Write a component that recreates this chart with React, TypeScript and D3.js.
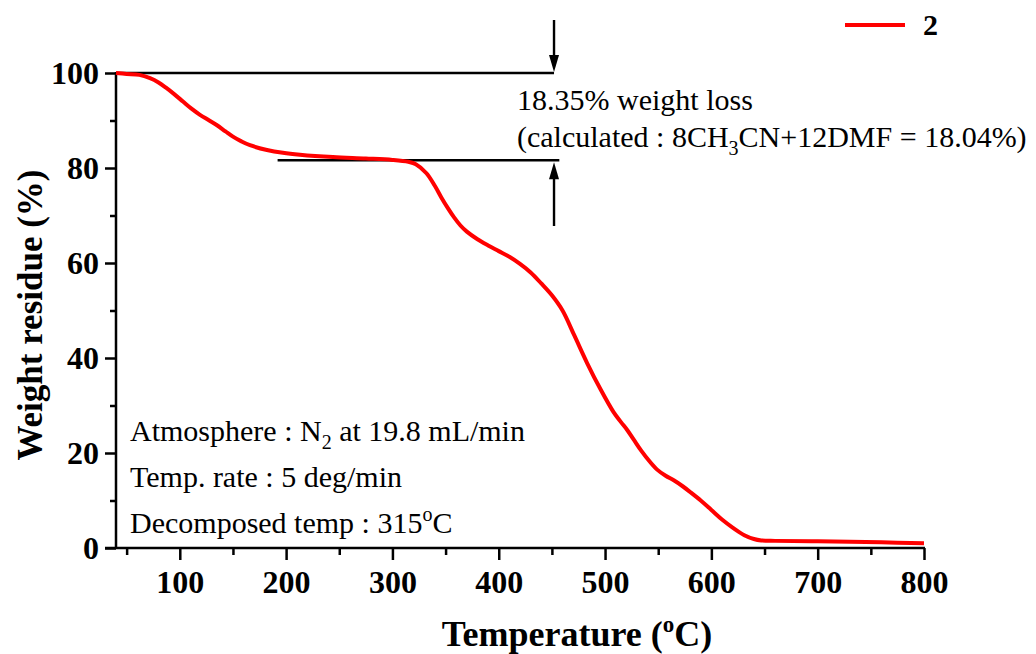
import React from "react";
import * as d3 from "d3";

// TGA curve (temperature in °C, weight residue in %)
const temps = [40, 50, 62, 72, 80, 87, 95, 103, 111, 119, 127, 135, 143, 150, 158, 166, 182, 197, 213, 244, 275, 300, 315, 322, 332, 340, 346, 352, 358, 364, 370, 380, 390, 400, 410, 420, 430, 440, 450, 460, 471, 483, 496, 508, 515, 521, 527, 534, 542, 549, 557, 565, 573, 580, 590, 600, 610, 620, 631, 640, 647, 660, 700, 760, 800];
const weights = [100.0, 99.8, 99.6, 98.9, 98.0, 96.9, 95.5, 94.0, 92.5, 91.2, 90.1, 89.0, 87.7, 86.6, 85.6, 84.8, 83.8, 83.2, 82.8, 82.3, 82.0, 81.7, 81.3, 80.8, 78.9, 76.2, 73.8, 71.6, 69.6, 67.9, 66.6, 65.0, 63.7, 62.5, 61.3, 59.8, 58.0, 55.7, 53.2, 50.0, 44.8, 39.0, 33.3, 28.6, 26.5, 24.8, 22.8, 20.5, 18.2, 16.5, 15.2, 14.2, 13.0, 11.8, 10.0, 8.0, 6.0, 4.3, 2.7, 1.9, 1.6, 1.5, 1.4, 1.2, 1.0];

const xTicks = [100, 200, 300, 400, 500, 600, 700, 800];
const xMinor = [50, 150, 250, 350, 450, 550, 650, 750];
const yTicks = [0, 20, 40, 60, 80, 100];
const yMinor = [10, 30, 50, 70, 90];

const seriesName = "2";
const lossTop = 100;
const lossBottom = 81.65;
const lossMarkT = 452;
const lossLineStartT = 192;

const width = 1036;
const height = 654;
const serif = "'Liberation Serif', 'Times New Roman', serif";

export default function App() {
  const ref = React.useRef<SVGGElement>(null);

  React.useEffect(() => {
    const svg = d3.select(ref.current);
    svg.selectAll("*").remove();

    const x = d3.scaleLinear().domain([40, 800]).range([116, 924]);
    const y = d3.scaleLinear().domain([0, 100]).range([548, 73]);

    const styleAxis = (g: any) => {
      g.select(".domain").remove();
      g.selectAll("line").attr("stroke", "#000").attr("stroke-width", 2.5);
      g.selectAll("text")
        .attr("font-family", serif)
        .attr("font-weight", "bold")
        .attr("font-size", 32)
        .attr("fill", "#000");
    };

    // axes (major and minor ticks in their own groups)
    const gxMinor = svg.append("g").attr("transform", `translate(0,${y(0)})`);
    gxMinor.call(d3.axisBottom(x).tickValues(xMinor).tickSize(7).tickFormat(() => ""));
    styleAxis(gxMinor);
    const gx = svg.append("g").attr("transform", `translate(0,${y(0)})`);
    gx.call(
      d3.axisBottom(x).tickValues(xTicks).tickSize(12).tickPadding(10).tickFormat(d3.format("d"))
    );
    styleAxis(gx);
    gx.selectAll("text").attr("dy", "0.71em");

    const gyMinor = svg.append("g").attr("transform", `translate(${x(40)},0)`);
    gyMinor.call(d3.axisLeft(y).tickValues(yMinor).tickSize(6).tickFormat(() => ""));
    styleAxis(gyMinor);
    const gy = svg.append("g").attr("transform", `translate(${x(40)},0)`);
    gy.call(
      d3.axisLeft(y).tickValues(yTicks).tickSize(11).tickPadding(6).tickFormat(d3.format("d"))
    );
    styleAxis(gy);

    svg.append("line")
      .attr("x1", x(40) - 11).attr("x2", x(800) + 1)
      .attr("y1", y(0)).attr("y2", y(0))
      .attr("stroke", "#000").attr("stroke-width", 2.5);
    svg.append("line")
      .attr("x1", x(40)).attr("x2", x(40))
      .attr("y1", y(100) - 1).attr("y2", y(0))
      .attr("stroke", "#000").attr("stroke-width", 2.5);

    // annotation lines + arrows
    svg.append("line")
      .attr("x1", x(40)).attr("x2", x(lossMarkT))
      .attr("y1", y(lossTop)).attr("y2", y(lossTop))
      .attr("stroke", "#000").attr("stroke-width", 2.5);
    svg.append("line")
      .attr("x1", x(lossLineStartT)).attr("x2", x(lossMarkT + 5))
      .attr("y1", y(lossBottom)).attr("y2", y(lossBottom))
      .attr("stroke", "#000").attr("stroke-width", 2.5);

    const ax = x(lossMarkT);
    const arrow = (yFrom: number, yTip: number) => {
      const dir = yTip > yFrom ? 1 : -1;
      svg.append("line")
        .attr("x1", ax).attr("x2", ax)
        .attr("y1", yFrom).attr("y2", yTip - dir * 10)
        .attr("stroke", "#000").attr("stroke-width", 2.4);
      svg.append("path")
        .attr("d", `M${ax - 5},${yTip - dir * 17} L${ax + 5},${yTip - dir * 17} L${ax},${yTip} Z`)
        .attr("fill", "#000");
    };
    arrow(20, y(lossTop) - 1);
    arrow(226, y(lossBottom) + 2);

    // curve
    const line = d3
      .line<number>()
      .x((_, i) => x(temps[i]))
      .y((d) => y(d))
      .curve(d3.curveCatmullRom.alpha(0.5));
    svg.append("path")
      .attr("d", line(weights))
      .attr("fill", "none")
      .attr("stroke", "#ff0000")
      .attr("stroke-width", 4)
      .attr("stroke-linejoin", "round");

    // legend
    svg.append("line")
      .attr("x1", 845).attr("x2", 905).attr("y1", 25).attr("y2", 25)
      .attr("stroke", "#ff0000").attr("stroke-width", 4);
    svg.append("text")
      .attr("x", 923).attr("y", 35)
      .attr("font-family", serif).attr("font-weight", "bold").attr("font-size", 30)
      .text(seriesName);
  }, []);

  const t = { fontFamily: serif, fontSize: 30, fill: "#000" } as const;

  return (
    <svg
      width={width}
      height={height}
      style={{ position: "absolute", left: 0, top: 0, background: "#fff" }}
    >
      <g ref={ref} />
      <g>
        <text x={517} y={110} {...t}>18.35% weight loss</text>
        <text x={517} y={147} {...t}>
          (calculated : 8CH<tspan dy={8} fontSize={20}>3</tspan>
          <tspan dy={-8}>CN+12DMF = 18.04%)</tspan>
        </text>
        <text x={130} y={441} {...t}>
          Atmosphere : N<tspan dy={8} fontSize={20}>2</tspan>
          <tspan dy={-8}> at 19.8 mL/min</tspan>
        </text>
        <text x={130} y={487} {...t}>Temp. rate : 5 deg/min</text>
        <text x={130} y={533} {...t}>
          Decomposed temp : 315<tspan dy={-12} fontSize={20}>o</tspan>
          <tspan dy={12}>C</tspan>
        </text>
        <text
          x={577}
          y={646}
          textAnchor="middle"
          fontFamily={serif}
          fontWeight="bold"
          fontSize={36}
        >
          Temperature (<tspan dy={-14} fontSize={23}>o</tspan>
          <tspan dy={14}>C)</tspan>
        </text>
        <text
          transform="translate(42,315) rotate(-90)"
          textAnchor="middle"
          fontFamily={serif}
          fontWeight="bold"
          fontSize={35}
        >
          Weight residue (%)
        </text>
      </g>
    </svg>
  );
}
